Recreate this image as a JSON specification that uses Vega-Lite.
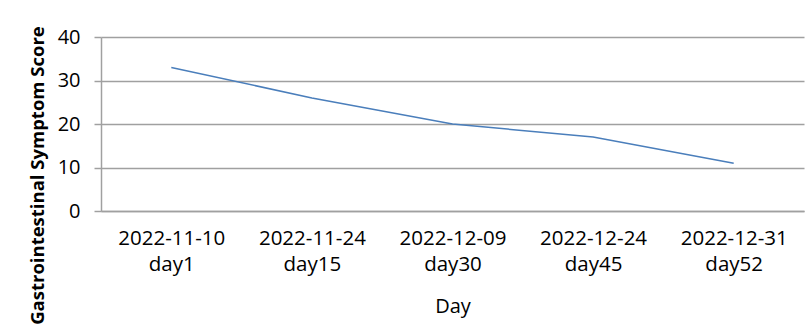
{
  "$schema": "https://vega.github.io/schema/vega-lite/v6.json",
  "width": 703,
  "height": 174,
  "autosize": {"type": "none"},
  "padding": {"left": 101, "top": 37, "right": 3, "bottom": 123},
  "background": "white",
  "config": {"view": {"stroke": null}, "font": "Open Sans"},
  "data": {
    "values": [
      {"day": "2022-11-10|day1", "score": 33},
      {"day": "2022-11-24|day15", "score": 26},
      {"day": "2022-12-09|day30", "score": 20},
      {"day": "2022-12-24|day45", "score": 17},
      {"day": "2022-12-31|day52", "score": 11}
    ]
  },
  "mark": {"type": "line", "color": "#4a7ebb", "strokeWidth": 1.5},
  "encoding": {
    "x": {
      "field": "day",
      "type": "ordinal",
      "sort": null,
      "scale": {"padding": 0.5},
      "axis": {
        "title": "Day",
        "titleFont": "Open Sans",
        "titleFontSize": 20,
        "titleFontWeight": "normal",
        "titleColor": "#000000",
        "titlePadding": 22,
        "labelExpr": "split(datum.label, '|')",
        "labelFontSize": 20.5,
        "labelColor": "#000000",
        "labelAngle": 0,
        "labelLineHeight": 26,
        "labelPadding": 17,
        "ticks": false,
        "domainColor": "#a0a0a0",
        "domainWidth": 1.5
      }
    },
    "y": {
      "field": "score",
      "type": "quantitative",
      "scale": {"domain": [0, 40]},
      "axis": {
        "title": "Gastrointestinal Symptom Score",
        "titleFont": "Open Sans",
        "titleFontSize": 18.5,
        "titleFontWeight": "bold",
        "titleColor": "#000000",
        "titleAngle": 270,
        "titleX": -64,
        "titleY": 138,
        "titleAlign": "center",
        "titleBaseline": "middle",
        "values": [0, 10, 20, 30, 40],
        "labelFontSize": 20,
        "labelColor": "#000000",
        "labelPadding": 14,
        "tickSize": 7,
        "tickColor": "#a0a0a0",
        "tickWidth": 1.5,
        "domainColor": "#a0a0a0",
        "domainWidth": 1.5,
        "gridColor": "#a0a0a0",
        "gridWidth": 1.5
      }
    }
  }
}
